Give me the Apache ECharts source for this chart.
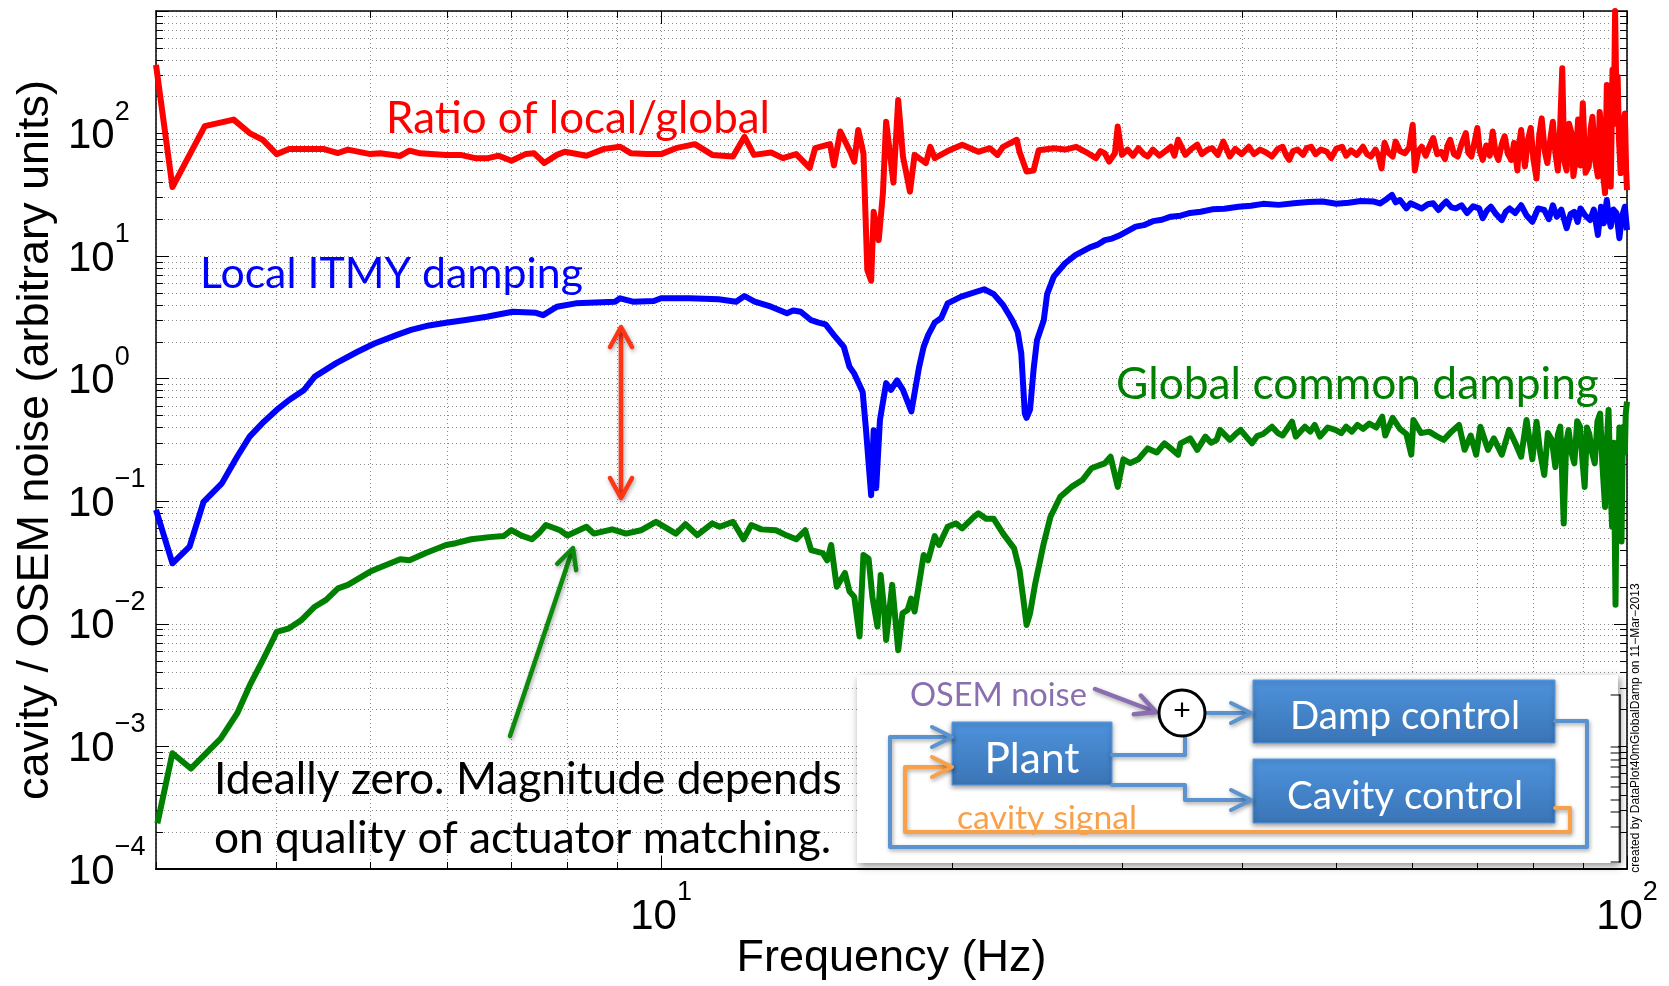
<!DOCTYPE html>
<html>
<head>
<meta charset="utf-8">
<title>Local vs global damping</title>
<script src="https://cdn.jsdelivr.net/npm/echarts@6/dist/echarts.min.js"></script>
<style>
  html, body { margin: 0; padding: 0; background: #fff; }
  #main { width: 1669px; height: 986px; }
</style>
</head>
<body>
<div id="main"></div>
<script>
// [frequency Hz, magnitude]
const ratioData = [
  [3.00,363],[3.12,36.6],[3.37,115],[3.61,130],[3.75,101],[3.87,88.7],[4.00,68],[4.12,74.8],[4.47,75],[4.63,69.4],
  [4.74,74],[5.00,68],[5.12,69],[5.37,65.7],[5.49,72.5],[5.63,69],[5.99,67],[6.20,67],[6.42,63],[6.62,63],
  [6.79,66],[7.00,60],[7.24,68],[7.39,69],[7.57,57.5],[7.80,67],[7.95,71],[8.37,66],[8.73,75],[9.07,78],
  [9.31,69],[9.67,68],[10.0,68],[10.36,76],[10.84,82],[11.3,67],[11.87,65],[12.2,94],[12.48,67],[13.0,70],
  [13.37,63],[13.8,68],[14.25,52.5],[14.44,76],[14.96,82],[15.1,55],[15.33,104],[15.7,71],[15.85,59],[16.0,107],
  [16.2,69],[16.35,7.7],[16.5,6.3],[16.6,23],[16.8,13.5],[16.97,32.7],[17.1,125],[17.4,39.8],[17.6,188],[17.8,65],
  [18.1,33.6],[18.3,67],[18.8,57.5],[19.0,78],[19.2,63],[19.8,72],[20.5,81],[21.3,71],[21.9,76],[22.3,67],
  [22.6,78],[23.35,89],[23.5,71],[23.9,49],[24.3,50],[24.6,73],[25.5,76],[26.2,74],[26.9,78],[27.5,71],
  [28.2,63],[28.5,72],[28.8,69],[29.1,59],[29.5,69],[29.7,114],[30.0,67],[30.4,74],[30.8,66],[31.2,76],
  [31.6,68],[31.9,65],[32.3,74],[32.8,66],[33.2,71],[33.7,78],[34.0,66],[34.3,89],[34.9,67],[35.4,75],
  [35.9,81],[36.3,68],[36.8,74],[37.2,76],[37.7,67],[38.2,86],[38.8,65],[39.3,75],[39.9,68],[40.6,78],
  [41.1,68],[41.7,74],[42.3,70],[42.9,65],[43.5,75],[44.0,78],[44.4,66],[44.7,61],[45.1,72],[45.6,74],
  [46.2,67],[46.6,76],[47.1,78],[47.6,68],[48.2,74],[48.9,71],[49.4,63],[50.0,75],[50.7,78],[51.2,66],
  [51.8,73],[52.5,67],[53.3,78],[53.8,68],[54.3,65],[54.9,74],[55.3,66],[55.7,52],[56.1,84],[56.6,70],
  [57.2,65],[57.6,86],[58.2,72],[58.9,69],[59.5,77],[60.0,118],[60.3,50],[60.8,72],[61.3,78],[61.9,66],
  [62.5,80],[63.0,92],[63.6,68],[64.2,71],[64.8,62],[65.2,80],[65.6,89],[66.2,68],[66.8,65],[67.4,82],
  [68.1,101],[68.5,70],[69.0,65],[69.5,84],[70.0,111],[70.4,72],[70.9,61],[71.5,80],[72.1,66],[72.6,104],
  [73.1,70],[73.6,61],[74.2,82],[74.7,95],[75.3,68],[75.9,61],[76.4,84],[77.0,50],[77.3,80],[77.7,107],
  [78.1,70],[78.4,54],[79.0,90],[79.5,111],[80.0,62],[80.6,43],[81.1,95],[81.6,133],[82.2,72],[82.7,57.5],
  [83.3,90],[83.8,125],[84.3,70],[84.8,50],[85.2,95],[85.7,341],[86.1,60],[86.6,50],[87.1,120],[87.6,101],
  [88.0,45],[88.5,61],[89.0,130],[89.5,55],[90.0,177],[90.6,48],[91.3,54],[91.7,110],[92.1,137],[92.7,60],
  [93.3,44.6],[93.7,150],[94.1,107],[94.5,45],[94.9,32.7],[95.3,249],[95.8,80],[96.2,37],[96.6,331],[96.9,120],
  [97.2,1000],[97.5,200],[97.8,291],[98.1,90],[98.5,47.6],[99.0,110],[99.5,146],[99.8,50],[100,34.6]
];

const localData = [
  [3.00,0.085],[3.12,0.0312],[3.25,0.0427],[3.36,0.099],[3.51,0.14],[3.64,0.231],[3.75,0.337],[3.88,0.446],
  [4.00,0.556],[4.12,0.67],[4.27,0.81],[4.38,1.04],[4.61,1.34],[4.85,1.66],[5.05,1.94],[5.32,2.27],[5.51,2.5],
  [5.75,2.72],[5.99,2.86],[6.25,3.0],[6.6,3.2],[7.02,3.52],[7.42,3.45],[7.55,3.3],[7.80,3.87],[8.16,4.12],
  [8.96,4.25],[9.07,4.53],[9.35,4.25],[9.83,4.3],[10.0,4.53],[10.7,4.53],[11.47,4.45],[11.96,4.25],[12.2,4.73],
  [12.5,4.25],[13.0,3.87],[13.5,3.42],[13.7,3.6],[13.95,3.52],[14.3,3.0],[14.56,2.87],[14.8,2.77],[15.1,2.27],
  [15.46,1.82],[15.67,1.25],[15.85,1.1],[16.17,0.78],[16.3,0.382],[16.5,0.112],[16.6,0.38],[16.7,0.128],
  [16.85,0.46],[17.1,0.92],[17.3,0.81],[17.55,0.97],[17.8,0.81],[18.16,0.54],[18.5,1.25],[18.7,1.82],
  [18.9,2.27],[19.2,2.87],[19.5,3.13],[19.8,4.12],[20.45,4.67],[21.6,5.37],[22.1,4.9],[22.6,3.99],[23.1,3.0],
  [23.4,2.4],[23.6,1.61],[23.8,0.52],[23.9,0.48],[24.1,0.56],[24.3,1.18],[24.5,2.06],[24.9,3.0],[25.1,4.9],
  [25.5,6.8],[26.2,8.75],[26.85,10.2],[27.8,11.8],[28.3,12.4],[28.8,13.5],[29.3,13.9],[29.9,14.9],[30.5,16.2],
  [31.0,17.4],[31.6,17.9],[32.3,19.3],[33.0,19.8],[33.7,21.0],[34.5,21.4],[35.3,22.5],[36.2,23.0],[37.2,24.1],
  [38.3,24.4],[39.6,25.3],[40.8,25.8],[42.0,26.7],[43.6,26.2],[45.2,27.0],[46.8,27.6],[48.4,27.9],[50.0,26.8],
  [51.5,27.3],[53.0,28.2],[54.7,27.9],[55.5,26.9],[56.2,28.7],[57.1,31.6],[57.6,27.5],[58.2,28.7],[59.1,24.5],
  [59.7,27.0],[60.3,26.0],[61.3,24.5],[62.2,26.5],[63.0,27.0],[63.8,23.8],[64.4,26.0],[65.0,27.9],[65.8,25.0],
  [66.5,24.5],[67.4,26.0],[68.3,22.5],[69.3,25.5],[70.3,24.5],[70.9,20.4],[71.6,23.5],[72.3,25.3],[73.2,22.0],
  [74.2,19.7],[74.9,23.0],[75.6,24.5],[76.6,22.5],[77.7,26.0],[78.7,21.5],[79.8,19.1],[80.9,24.5],[82.1,23.8],
  [83.0,20.0],[83.8,26.0],[84.6,21.0],[85.5,24.0],[86.6,16.9],[87.4,22.0],[88.2,23.0],[88.9,19.0],[89.5,24.5],
  [90.5,21.5],[91.6,19.7],[92.4,24.0],[93.3,14.9],[94.0,25.3],[94.6,18.5],[95.3,28.7],[95.8,20.0],[96.2,17.4],
  [96.8,24.0],[97.5,22.5],[98.2,14.0],[98.8,21.0],[99.5,25.3],[100,16.3]
];

const globalData = [
  [3.01,0.000236],[3.12,0.00088],[3.26,0.00066],[3.50,0.00116],[3.64,0.00186],[3.76,0.00327],[3.87,0.00507],
  [3.97,0.0076],[4.00,0.0086],[4.12,0.0092],[4.24,0.0107],[4.38,0.0138],[4.50,0.0157],[4.63,0.0195],[4.74,0.0208],
  [5.00,0.0267],[5.10,0.0285],[5.37,0.0336],[5.49,0.033],[5.70,0.0377],[5.99,0.044],[6.13,0.0455],[6.36,0.049],
  [6.64,0.051],[6.87,0.052],[7.00,0.0583],[7.17,0.0525],[7.35,0.049],[7.49,0.056],[7.60,0.064],[7.86,0.058],
  [8.0,0.0525],[8.37,0.062],[8.52,0.0545],[8.9,0.059],[9.2,0.0545],[9.53,0.058],[9.88,0.068],[10.36,0.0545],
  [10.6,0.065],[10.9,0.053],[11.3,0.066],[11.5,0.062],[11.87,0.068],[12.17,0.049],[12.4,0.064],[12.7,0.059],
  [13.15,0.058],[13.5,0.0525],[13.8,0.049],[14.1,0.058],[14.3,0.040],[14.7,0.0377],[14.86,0.033],[15.0,0.044],
  [15.2,0.0201],[15.5,0.026],[15.67,0.0184],[15.85,0.0166],[16.05,0.0079],[16.2,0.0365],[16.4,0.034],
  [16.55,0.0166],[16.75,0.0095],[16.88,0.025],[17.02,0.013],[17.1,0.0074],[17.35,0.0208],[17.6,0.0061],
  [17.78,0.0122],[18.0,0.013],[18.15,0.0161],[18.3,0.0126],[18.7,0.0365],[18.9,0.033],[19.2,0.052],[19.4,0.044],
  [19.8,0.062],[20.2,0.066],[20.5,0.06],[21.0,0.0726],[21.3,0.0798],[21.7,0.072],[22.1,0.072],[22.6,0.0545],
  [23.2,0.0413],[23.5,0.0275],[23.7,0.0166],[23.9,0.0098],[24.1,0.0122],[24.4,0.0214],[24.9,0.0455],[25.3,0.0748],
  [25.9,0.109],[26.6,0.131],[27.3,0.149],[27.9,0.186],[28.5,0.198],[28.8,0.204],[29.2,0.231],[29.7,0.131],
  [30.1,0.22],[30.6,0.205],[31.2,0.22],[31.9,0.27],[32.6,0.25],[33.2,0.297],[33.8,0.265],[34.3,0.24],[34.5,0.297],
  [35.3,0.326],[35.9,0.263],[36.6,0.337],[37.1,0.3],[37.6,0.317],[37.9,0.382],[38.8,0.317],[39.3,0.35],
  [39.8,0.382],[40.9,0.297],[41.4,0.34],[42.0,0.354],[42.9,0.406],[43.5,0.36],[44.0,0.344],[45.0,0.446],
  [45.4,0.337],[46.4,0.406],[47.0,0.37],[47.5,0.42],[48.1,0.337],[49.0,0.4],[49.9,0.382],[50.6,0.36],[51.2,0.406],
  [51.9,0.37],[52.6,0.42],[53.3,0.39],[54.1,0.43],[55.0,0.4],[55.8,0.49],[56.2,0.344],[57.2,0.48],[58.2,0.39],
  [59.1,0.354],[59.8,0.24],[60.1,0.46],[61.2,0.36],[62.4,0.37],[63.5,0.34],[64.6,0.317],[65.8,0.37],[67.0,0.42],
  [67.9,0.263],[68.9,0.344],[69.8,0.24],[70.5,0.406],[71.8,0.263],[72.8,0.326],[74.2,0.24],[75.5,0.382],
  [76.6,0.3],[77.7,0.231],[78.7,0.46],[79.8,0.22],[80.6,0.446],[81.3,0.25],[82.1,0.164],[82.8,0.36],[83.6,0.317],
  [84.3,0.19],[84.8,0.35],[85.3,0.406],[85.6,0.2],[86.0,0.066],[86.5,0.3],[87.0,0.382],[87.6,0.25],[88.2,0.204],
  [88.8,0.45],[89.4,0.406],[89.9,0.22],[90.4,0.131],[90.9,0.4],[91.4,0.354],[92.0,0.25],[92.6,0.204],[93.2,0.45],
  [93.8,0.52],[94.3,0.2],[94.9,0.09],[95.3,0.3],[95.7,0.556],[96.1,0.15],[96.5,0.062],[96.9,0.3],[97.3,0.0143],
  [97.6,0.2],[97.8,0.109],[98.2,0.4],[98.7,0.047],[99.0,0.3],[99.2,0.406],[99.5,0.25],[99.7,0.52],[100,0.65]
];

// tick positions / labels
const xLabelTicks = [10, 100];
const xMajorTicks = [10, 100];
const xMinorTicks = [3, 4, 5, 6, 7, 8, 9, 10, 20, 30, 40, 50, 60, 70, 80, 90, 100];
const yLabelTicks = [1e-4, 1e-3, 1e-2, 1e-1, 1, 10, 100];
const yMajorTicks = [1e-4, 1e-3, 1e-2, 1e-1, 1, 10, 100, 1000];
const yMinorTicks = [];
for (let e = -4; e <= 2; e++) {
  for (let m = 1; m <= 9; m++) yMinorTicks.push(Number((m * Math.pow(10, e)).toPrecision(3)));
}
yMinorTicks.push(1000);

const HELV = 'Liberation Sans';
const CAL = 'Lato';

function powLabel(v) {
  const e = Math.round(Math.log10(v));
  return '{b|10}{s|' + (e < 0 ? '\u2212' + (-e) : e) + '}';
}
// superscript pinned to the top of the line box, the base to its bottom
const richTick = {
  b: { fontSize: 42, fontFamily: HELV, color: '#000', lineHeight: 42, verticalAlign: 'bottom' },
  s: { fontSize: 27, fontFamily: HELV, color: '#000', lineHeight: 59, verticalAlign: 'top' }
};

const gridMajor = { color: '#6c6c6c', width: 1, type: [1, 3] };
const gridMinor = { color: '#8a8a8a', width: 1, type: [1, 3] };
const black = { color: '#000', width: 1 };

function logX(extra) {
  return Object.assign({
    type: 'log', logBase: 10, min: 3, max: 100, gridIndex: 0,
    axisLine: { show: false }, axisLabel: { show: false },
    splitLine: { show: false }, minorTick: { show: false }, minorSplitLine: { show: false }
  }, extra);
}
function logY(extra) {
  return Object.assign({
    type: 'log', logBase: 10, min: 1e-4, max: 1e3, gridIndex: 0,
    axisLine: { show: false }, axisLabel: { show: false },
    splitLine: { show: false }, minorTick: { show: false }, minorSplitLine: { show: false }
  }, extra);
}

// font size that makes a string span a given pixel width
const measureCtx = document.createElement('canvas').getContext('2d');
function fitSize(text, family, width) {
  measureCtx.font = '100px "' + family + '"';
  return 100 * width / measureCtx.measureText(text).width;
}

function txt(text, x, baseline, size, color, align, family) {
  return {
    type: 'text', x: x, y: baseline - 0.3 * size, z: 120, silent: true,
    style: { text: text, fontSize: size, fontFamily: family || CAL, fill: color,
             align: align || 'left', verticalAlign: 'middle' }
  };
}
function line(points, color, width, z, shadow) {
  const st = { stroke: color, lineWidth: width, fill: null, lineJoin: 'round', lineCap: 'round' };
  if (shadow) { st.shadowBlur = 4; st.shadowColor = 'rgba(0,0,0,0.35)'; st.shadowOffsetX = 1; st.shadowOffsetY = 2; }
  return { type: 'polyline', z: z || 115, silent: true, shape: { points: points }, style: st };
}
function head(from, tip, len, half, color, width, z, shadow) {
  const dx = tip[0] - from[0], dy = tip[1] - from[1];
  const d = Math.hypot(dx, dy), ux = dx / d, uy = dy / d, nx = -uy, ny = ux;
  const bx = tip[0] - len * ux, by = tip[1] - len * uy;
  return line([[bx + half * nx, by + half * ny], tip, [bx - half * nx, by - half * ny]], color, width, z, shadow);
}

const chart = echarts.init(document.getElementById('main'), null, { renderer: 'canvas' });

// annotation font sizes
const fsRatio = fitSize('Ratio of local/global', CAL, 384);
const fsLocal = fitSize('Local ITMY damping', CAL, 383);
const fsGlobal = fitSize('Global common damping', CAL, 483);
const fsNote = (fitSize('Ideally zero. Magnitude depends', CAL, 628) + fitSize('on quality of actuator matching.', CAL, 617)) / 2;
const fsOsem = fitSize('OSEM noise', CAL, 177);
const fsPlant = fitSize('Plant', CAL, 95);
const fsCtrl = fitSize('Damp control', CAL, 230);
const fsCav = fitSize('cavity signal', CAL, 180);

const boxFill = () => new echarts.graphic.LinearGradient(0, 0, 0, 1, [
  { offset: 0, color: '#4e93dc' }, { offset: 1, color: '#3a74b6' }
]);
function box(x, y, w, h) {
  return {
    type: 'rect', z: 112, silent: true, shape: { x: x, y: y, width: w, height: h },
    style: { fill: boxFill(), stroke: '#5b9ce3', lineWidth: 1,
             shadowBlur: 5, shadowColor: 'rgba(0,0,0,0.4)', shadowOffsetY: 2 }
  };
}

const BLUE = '#5b93cf', ORANGE = '#f9a04b', PURPLE = '#8a6fb0';
const bracketTicks = [695, 747, 753, 760, 767, 777, 787, 800, 812, 827, 862];

const graphics = [
  // annotations
  txt('Ratio of local/global', 386, 132, fsRatio, '#ff0000'),
  txt('Local ITMY damping', 200, 287, fsLocal, '#0000ff'),
  txt('Global common damping', 1116, 398, fsGlobal, '#008000'),
  txt('Ideally zero. Magnitude depends', 214, 793, fsNote, '#000'),
  txt('on quality of actuator matching.', 214, 852, fsNote, '#000'),
  line([[621, 331], [621, 494]], '#ff3516', 4.5, 118, true),
  head([621, 400], [621, 327], 20, 11, '#ff3516', 4.5, 118, true),
  head([621, 400], [621, 498], 20, 11, '#ff3516', 4.5, 118, true),
  line([[510, 736], [572, 551]], '#0b8a0b', 4.5, 118, true),
  head([510, 736], [573, 548], 20, 10, '#0b8a0b', 4.5, 118, true),

  // inset block diagram
  { type: 'rect', z: 110, silent: true, shape: { x: 857, y: 675, width: 761, height: 188 },
    style: { fill: '#fff', shadowBlur: 8, shadowColor: 'rgba(0,0,0,0.45)', shadowOffsetX: 2, shadowOffsetY: 3 } },
  line([[1620, 695], [1620, 862]], '#000', 1.5, 111),
  ...bracketTicks.map(y => line([[1611, y], [1620, y]], '#000', 1, 111)),
  line([[1555, 721], [1587, 721], [1587, 847], [890, 847], [890, 737], [949, 737]], BLUE, 4, 113, true),
  head([890, 737], [952, 737], 20, 10, BLUE, 4, 113, true),
  line([[1112, 755], [1185, 755], [1185, 737]], BLUE, 4, 113, true),
  line([[1112, 785], [1185, 785], [1185, 800], [1248, 800]], BLUE, 4, 113, true),
  head([1185, 800], [1251, 800], 20, 10, BLUE, 4, 113, true),
  line([[1207, 713], [1248, 713]], BLUE, 4, 113, true),
  head([1207, 713], [1251, 713], 20, 10, BLUE, 4, 113, true),
  line([[1555, 808], [1570, 808], [1570, 832], [905, 832], [905, 767], [949, 767]], ORANGE, 4, 113, true),
  head([905, 767], [952, 767], 20, 10, ORANGE, 4, 113, true),
  line([[1095, 689], [1153, 711]], PURPLE, 4.5, 113, true),
  head([1095, 689], [1156, 712], 20, 10, PURPLE, 4.5, 113, true),
  { type: 'circle', z: 114, silent: true, shape: { cx: 1182, cy: 713, r: 23 },
    style: { fill: '#fff', stroke: '#000', lineWidth: 3 } },
  { type: 'text', z: 120, silent: true, x: 1182, y: 712,
    style: { text: '+', fontSize: 30, fontFamily: HELV, fill: '#000', align: 'center', verticalAlign: 'middle' } },
  box(952, 722, 160, 63),
  box(1253, 680, 302, 63),
  box(1253, 759, 302, 64),
  txt('Plant', 1032, 772, fsPlant, '#fff', 'center'),
  txt('Damp control', 1405, 728, fsCtrl, '#fff', 'center'),
  txt('Cavity control', 1405, 808, fsCtrl, '#fff', 'center'),
  txt('OSEM noise', 910, 705, fsOsem, PURPLE),
  txt('cavity signal', 957, 828, fsCav, ORANGE),

  // stamp on right edge
  { type: 'text', z: 120, silent: true, x: 1636, y: 728, rotation: Math.PI / 2,
    style: { text: 'created by DataPlot40mGlobalDamp on 11\u2212Mar\u22122013', fontSize: 12,
             fontFamily: HELV, fill: '#000', align: 'center', verticalAlign: 'middle' } }
];

const option = {
  animation: false,
  backgroundColor: '#fff',
  grid: { left: 156, right: 42, top: 11, bottom: 117, containLabel: false, outerBoundsMode: 'none' },
  xAxis: [
    logX({
      position: 'bottom',
      axisLine: { show: true, lineStyle: { color: '#000', width: 2 } },
      axisTick: { show: true, inside: true, length: 13, customValues: xMajorTicks, lineStyle: black },
      axisLabel: { show: true, customValues: xLabelTicks, formatter: powLabel, rich: richTick, margin: 10 },
      splitLine: { show: true, lineStyle: gridMajor },
      name: 'Frequency (Hz)', nameLocation: 'middle', nameGap: 67, nameMoveOverlap: false,
      nameTextStyle: { fontSize: 45, fontFamily: HELV, color: '#000' }
    }),
    logX({
      position: 'bottom',
      axisTick: { show: true, inside: true, length: 7, customValues: xMinorTicks, lineStyle: black },
      splitLine: { show: true, lineStyle: gridMinor }
    }),
    logX({
      position: 'top',
      axisLine: { show: true, lineStyle: { color: '#000', width: 1.5 } },
      axisTick: { show: true, inside: true, length: 13, customValues: xMajorTicks, lineStyle: black }
    }),
    logX({
      position: 'top',
      axisTick: { show: true, inside: true, length: 7, customValues: xMinorTicks, lineStyle: black }
    })
  ],
  yAxis: [
    logY({
      position: 'left',
      axisLine: { show: true, lineStyle: { color: '#000', width: 1.5 } },
      axisTick: { show: true, inside: true, length: 13, customValues: yMajorTicks, lineStyle: black },
      axisLabel: { show: true, customValues: yLabelTicks, formatter: powLabel, rich: richTick,
                   align: 'left', margin: 88, padding: [0, 0, 11, 0] },
      splitLine: { show: true, lineStyle: gridMajor },
      name: 'cavity / OSEM noise (arbitrary units)', nameLocation: 'middle', nameGap: 98, nameMoveOverlap: false,
      nameTextStyle: { fontSize: 45, fontFamily: HELV, color: '#000' }
    }),
    logY({
      position: 'left',
      axisTick: { show: true, inside: true, length: 7, customValues: yMinorTicks, lineStyle: black },
      splitLine: { show: true, lineStyle: gridMinor }
    }),
    logY({
      position: 'right',
      axisLine: { show: true, lineStyle: { color: '#000', width: 1.5 } },
      axisTick: { show: true, inside: true, length: 13, customValues: yMajorTicks, lineStyle: black }
    }),
    logY({
      position: 'right',
      axisTick: { show: true, inside: true, length: 7, customValues: yMinorTicks, lineStyle: black }
    })
  ],
  series: [
    { name: 'Global common damping', type: 'line', data: globalData, xAxisIndex: 0, yAxisIndex: 0,
      symbol: 'none', clip: true, z: 3, lineStyle: { color: '#008000', width: 6, join: 'round' } },
    { name: 'Local ITMY damping', type: 'line', data: localData, xAxisIndex: 0, yAxisIndex: 0,
      symbol: 'none', clip: true, z: 3, lineStyle: { color: '#0000ff', width: 6, join: 'round' } },
    { name: 'Ratio of local/global', type: 'line', data: ratioData, xAxisIndex: 0, yAxisIndex: 0,
      symbol: 'none', clip: true, z: 3, lineStyle: { color: '#ff0000', width: 6, join: 'round' } }
  ],
  graphic: { elements: graphics }
};

chart.setOption(option);
</script>
</body>
</html>
